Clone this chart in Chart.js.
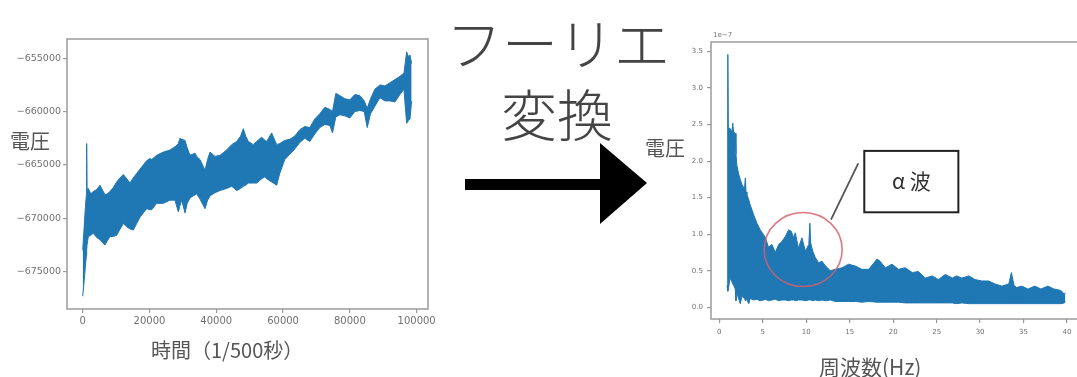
<!DOCTYPE html>
<html lang="ja">
<head>
<meta charset="utf-8">
<title>フーリエ変換</title>
<script src="https://cdn.jsdelivr.net/npm/chart.js@4/dist/chart.umd.min.js"></script>
<style>
  html, body { margin: 0; padding: 0; background: #fff; }
  #stage { position: relative; width: 1077px; height: 377px; overflow: hidden; background: #fff;
           font-family: "Noto Sans CJK JP", "Noto Sans", sans-serif; }
  .abs { position: absolute; white-space: nowrap; }
  #leftWrap { left: 0; top: 0; width: 440px; height: 377px; }
  #rightWrap { left: 640px; top: 0; width: 460px; height: 377px; }
  .axisTitle { color: #555; font-size: 20px; line-height: 20px; }
  .big { color: #444; font-size: 56px; line-height: 56px; font-weight: 300; transform: translateX(-50%); }
</style>
</head>
<body>
<div id="stage">
  <div id="leftWrap" class="abs"><canvas id="timeChart" width="440" height="377"></canvas></div>
  <div id="rightWrap" class="abs"><canvas id="freqChart" width="460" height="377"></canvas></div>

  <div class="abs axisTitle" style="left:10px; top:131px;">電圧</div>
  <div class="abs axisTitle" style="left:151px; top:340px;">時間（1/500秒）</div>
  <div class="abs axisTitle" style="left:645px; top:138px;">電圧</div>
  <div class="abs axisTitle" style="left:819px; top:356px; font-size:21px;">周波数(Hz)</div>

  <div class="abs big" style="left:558px; top:13px;">フーリエ</div>
  <div class="abs big" style="left:557px; top:84px;">変換</div>

  <svg class="abs" style="left:0; top:0;" width="1077" height="377">
    <rect x="465" y="179" width="138" height="11" fill="#000"/>
    <polygon points="600,143 647,183 600,224" fill="#000"/>
  </svg>
</div>

<script>
// Raw EEG voltage: upper / lower edges of the sample trace (x in samples at 1/500 s)
const timeX = [0, 400, 800, 1100, 1190, 1300, 1690, 2400, 3180, 4200, 5180, 6000, 6680, 7400, 8170, 9200,
  10170, 11200, 12170, 13200, 14160, 15160, 16160, 17150, 18150, 19150, 20150, 20650, 22150, 24140,
  26140, 27640, 28640, 29140, 29640, 30640, 31300, 32130, 33630, 34130, 35130, 36630, 37400, 38120,
  39620, 41120, 43110, 44610, 46110, 47300, 48100, 48800, 49600, 51100, 52090, 53590, 54590, 55090,
  56590, 58090, 59000, 60500, 62000, 63500, 65000, 66500, 68000, 69500, 71000, 72500, 74000, 74800,
  75800, 77000, 78500, 80000, 81500, 83000, 84300, 85200, 86200, 87500, 89000, 90500, 92000, 93500,
  95000, 96200, 97000, 97600, 98000, 98500];
const timeHigh = [-673000, -671000, -669000, -667800, -663000, -667300, -667200, -667700, -667500, -667300,
  -666900, -667400, -667800, -667700, -667500, -667100, -666600, -666200, -665900, -666300, -666700,
  -666200, -665800, -665400, -665000, -664600, -664400, -664500, -664100, -663800, -663600, -663300,
  -663000, -662500, -662600, -662700, -663400, -664100, -663900, -664200, -664500, -665500, -664500,
  -663800, -664200, -664100, -663600, -663100, -662800, -662300, -661600, -662300, -662800, -663100,
  -662800, -662400, -662700, -662800, -662000, -663100, -663000, -662700, -662600, -662300, -661700,
  -661400, -661500, -660700, -660200, -659600, -659800, -660000, -658300, -658500, -658800, -658900,
  -658400, -658500, -659000, -659700, -658800, -657900, -657500, -657600, -657300, -657000, -656700,
  -656400, -654400, -654900, -654700, -655500];
const timeLow = [-677300, -676000, -674500, -673500, -673000, -672500, -671700, -671600, -671400, -671800,
  -672000, -672300, -672500, -672100, -671700, -671700, -671600, -671000, -670500, -670800, -671000,
  -671100, -670500, -669900, -669500, -669100, -669200, -669200, -668600, -668600, -668300, -668300,
  -669400, -668800, -668300, -669500, -668600, -668100, -667800, -667700, -668200, -669100, -668300,
  -667900, -667600, -667400, -667200, -667000, -667400, -667200, -667000, -666900, -666700, -666700,
  -666700, -666300, -666100, -666300, -666600, -666900, -665800, -664500, -664000, -663500, -662900,
  -662500, -662800, -662100, -661500, -661200, -661300, -662000, -660500, -660300, -660400, -660600,
  -660000, -659900, -660000, -661500, -660200, -659500, -658700, -659000, -659000, -659100, -658400,
  -657900, -661100, -660800, -660700, -659000];

// Amplitude spectrum: upper / lower edges (x in Hz, y in units of 1e-7)
const freqX = [0.9, 0.97, 1.0, 1.04, 1.23, 1.45, 1.55, 1.65, 1.84, 1.92, 2.03, 2.22, 2.42, 2.61, 2.9, 3.0,
  3.08, 3.18, 3.4, 3.56, 3.95, 4.33, 4.71, 5.1, 5.29, 5.67, 6.06, 6.44, 6.83, 7.21, 7.6, 7.98, 8.28,
  8.55, 8.74, 9.1, 9.51, 9.9, 10.3, 10.42, 10.52, 10.74, 11.05, 11.43, 11.82, 12.2, 12.77, 13.35, 14.1,
  14.88, 15.65, 16.4, 17.2, 18.14, 18.5, 19.1, 19.87, 20.6, 21.4, 22.2, 22.9, 23.7, 24.5, 25.2, 26.0,
  26.8, 27.3, 27.9, 28.7, 29.4, 30.2, 31.0, 31.7, 32.5, 33.3, 33.6, 33.9, 34.2, 34.8, 35.5, 36.3, 37.0,
  37.8, 38.5, 39.3, 39.7, 39.8];
const freqHigh = [2.38, 2.40, 3.46, 2.45, 2.45, 2.40, 2.52, 2.40, 2.38, 2.10, 1.94, 1.83, 1.75, 1.68, 1.62,
  1.77, 1.58, 1.54, 1.47, 1.40, 1.27, 1.15, 1.06, 0.99, 0.96, 0.82, 0.86, 0.75, 0.86, 0.90, 0.97, 1.06,
  1.04, 0.95, 1.02, 0.81, 0.95, 0.77, 0.86, 1.15, 0.88, 0.77, 0.68, 0.61, 0.63, 0.57, 0.50, 0.52, 0.54,
  0.59, 0.565, 0.52, 0.52, 0.66, 0.63, 0.54, 0.59, 0.52, 0.54, 0.475, 0.49, 0.40, 0.43, 0.38, 0.45, 0.40,
  0.43, 0.40, 0.43, 0.38, 0.36, 0.36, 0.32, 0.29, 0.32, 0.475, 0.30, 0.27, 0.29, 0.25, 0.29, 0.25, 0.29,
  0.25, 0.23, 0.18, 0.20];
const freqLow = [0.30, 0.24, 0.22, 0.24, 0.40, 0.35, 0.32, 0.30, 0.25, 0.09, 0.20, 0.12, 0.05, 0.15, 0.12,
  0.09, 0.12, 0.12, 0.05, 0.12, 0.10, 0.11, 0.09, 0.10, 0.11, 0.09, 0.10, 0.11, 0.09, 0.10, 0.10, 0.09,
  0.10, 0.10, 0.09, 0.10, 0.10, 0.09, 0.10, 0.10, 0.10, 0.09, 0.10, 0.09, 0.10, 0.09, 0.10, 0.08, 0.08,
  0.08, 0.08, 0.07, 0.08, 0.07, 0.07, 0.07, 0.07, 0.07, 0.06, 0.06, 0.06, 0.06, 0.06, 0.06, 0.06, 0.06,
  0.05, 0.06, 0.05, 0.05, 0.05, 0.05, 0.05, 0.05, 0.05, 0.05, 0.05, 0.05, 0.05, 0.05, 0.05, 0.05, 0.05,
  0.05, 0.05, 0.06, 0.08];

// Tick values
const timeTicksX = [0, 20000, 40000, 60000, 80000, 100000];
const timeTicksY = [-675000, -670000, -665000, -660000, -655000];
const freqTicksX = [0, 5, 10, 15, 20, 25, 30, 35, 40];
const freqTicksY = [0, 0.5, 1.0, 1.5, 2.0, 2.5, 3.0, 3.5];

const BLUE = '#1f77b4';
const FRAME = '#9a9a9a';

const toPoints = (xs, ys) => xs.map((x, i) => ({ x: x, y: ys[i] }));

// Full rectangular frame around the plot area, plus optional offset text
const framePlugin = {
  id: 'frame',
  afterDatasetsDraw(chart, args, opts) {
    const { ctx, chartArea: a } = chart;
    ctx.save();
    ctx.strokeStyle = FRAME;
    ctx.lineWidth = 1.5;
    ctx.strokeRect(a.left, a.top, a.right - a.left, a.bottom - a.top);
    if (opts.offsetText) {
      ctx.fillStyle = '#777';
      ctx.font = '7px "DejaVu Sans"';
      ctx.textBaseline = 'bottom';
      ctx.fillText(opts.offsetText, a.left + 2, a.top - 3);
    }
    ctx.restore();
  }
};

// Alpha-band callout: circle around the 8–13 Hz region with a labelled box
const calloutPlugin = {
  id: 'callout',
  afterDraw(chart, args, opts) {
    if (!opts.enabled) return;
    const { ctx, scales: { x, y } } = chart;
    const cx = x.getPixelForValue(opts.circle.x), cy = y.getPixelForValue(opts.circle.y);
    ctx.save();
    ctx.strokeStyle = 'rgba(214, 96, 110, 0.85)';
    ctx.lineWidth = 1.6;
    ctx.beginPath();
    ctx.ellipse(cx, cy, opts.circle.rx, opts.circle.ry, 0, 0, Math.PI * 2);
    ctx.stroke();

    ctx.strokeStyle = '#555';
    ctx.lineWidth = 1.8;
    ctx.beginPath();
    ctx.moveTo(x.getPixelForValue(opts.line[0]), y.getPixelForValue(opts.line[1]));
    ctx.lineTo(x.getPixelForValue(opts.line[2]), y.getPixelForValue(opts.line[3]));
    ctx.stroke();

    const bl = x.getPixelForValue(opts.box[0]), bt = y.getPixelForValue(opts.box[1]);
    const br = x.getPixelForValue(opts.box[2]), bb = y.getPixelForValue(opts.box[3]);
    ctx.fillStyle = '#fff';
    ctx.fillRect(bl, bt, br - bl, bb - bt);
    ctx.strokeStyle = '#222';
    ctx.lineWidth = 2;
    ctx.strokeRect(bl, bt, br - bl, bb - bt);
    ctx.fillStyle = '#333';
    ctx.font = '21px "Noto Sans CJK JP"';
    ctx.textAlign = 'center';
    ctx.textBaseline = 'middle';
    ctx.fillText(opts.label, (bl + br) / 2, (bt + bb) / 2 - 1);
    ctx.restore();
  }
};

function bandDatasets(xs, hi, lo) {
  return [
    { data: toPoints(xs, hi), borderColor: BLUE, borderWidth: 1, pointRadius: 0, fill: false, tension: 0 },
    { data: toPoints(xs, lo), borderColor: BLUE, borderWidth: 1, pointRadius: 0, fill: '-1',
      backgroundColor: BLUE, tension: 0 }
  ];
}

function axis(opts) {
  return {
    type: 'linear',
    min: opts.min, max: opts.max,
    afterBuildTicks: (s) => { s.ticks = opts.ticks.map(v => ({ value: v })); },
    afterFit: (s) => { if (opts.width) s.width = opts.width; if (opts.height) s.height = opts.height; },
    grid: { drawOnChartArea: false, drawTicks: true, tickLength: 4, color: FRAME, lineWidth: 1.2 },
    border: { display: false },
    ticks: {
      color: '#707070',
      font: { family: 'DejaVu Sans', size: opts.fontSize },
      padding: opts.pad,
      maxRotation: 0,
      autoSkip: false,
      callback: opts.format
    }
  };
}

Chart.defaults.animation = false;

new Chart(document.getElementById('timeChart'), {
  type: 'line',
  data: { datasets: bandDatasets(timeX, timeHigh, timeLow) },
  options: {
    responsive: false,
    layout: { padding: { top: 39, right: 12, left: 0, bottom: 0 } },
    plugins: { legend: { display: false }, tooltip: { enabled: false }, frame: {} },
    scales: {
      x: axis({ min: -4700, max: 103400, ticks: timeTicksX, height: 68, fontSize: 10, pad: 2,
                format: (v) => String(v) }),
      y: axis({ min: -678500, max: -653200, ticks: timeTicksY, width: 67, fontSize: 9.5, pad: 2,
                format: (v) => '\u2212' + String(Math.abs(v)) })
    }
  },
  plugins: [framePlugin]
});

new Chart(document.getElementById('freqChart'), {
  type: 'line',
  data: { datasets: bandDatasets(freqX, freqHigh, freqLow) },
  options: {
    responsive: false,
    layout: { padding: { top: 42, right: 16, left: 0, bottom: 0 } },
    plugins: {
      legend: { display: false }, tooltip: { enabled: false },
      frame: { offsetText: '1e\u22127' },
      callout: {
        enabled: true,
        circle: { x: 9.65, y: 0.79, rx: 39, ry: 37 },
        line: [12.85, 1.20, 15.99, 1.97],
        box: [16.68, 2.14, 27.5, 1.30],
        label: 'α 波'
      }
    },
    scales: {
      x: axis({ min: -0.95, max: 41.95, ticks: freqTicksX, height: 58, fontSize: 7, pad: 5,
                format: (v) => String(v) }),
      y: axis({ min: -0.16, max: 3.63, ticks: freqTicksY, width: 71, fontSize: 7, pad: 4,
                format: (v) => v.toFixed(1) })
    }
  },
  plugins: [framePlugin, calloutPlugin]
});
</script>
</body>
</html>
